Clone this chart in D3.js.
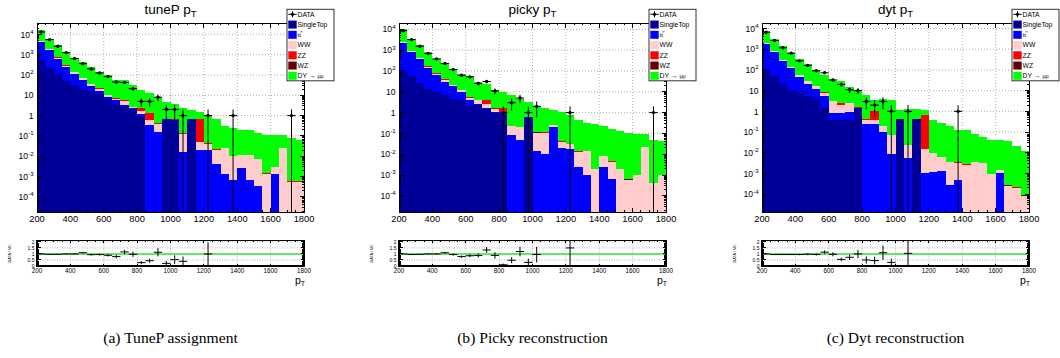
<!DOCTYPE html>
<html><head><meta charset="utf-8">
<script src="https://cdn.jsdelivr.net/npm/d3@7"></script>
<style>
body{margin:0;background:#fff;}
svg{display:block;}
text{font-family:"Liberation Sans",Arial,Helvetica,sans-serif;fill:#000;}
.cap{font-family:"Liberation Serif","Times New Roman",serif;}
</style>
</head><body>
<svg id="c" width="1060" height="358"></svg>
<script>
// ---------------- DATA ----------------
const binLow = [200,250,300,350,400,450,500,550,600,650,700,750,800,850,900,950,1000,1050,1100,1150,1200,1250,1300,1350,1400,1450,1500,1550,1600,1650,1700,1750];
const binWidth = 50;
const xTickValues = [200,400,600,800,1000,1200,1400,1600,1800];
const ratioTickValues = [0,0.5,1,1.5,2];
const ratioTickLabels = ["0","0.5","1","1.5","2"];
const processNames = ["SingleTop","tt","WW","ZZ","WZ","DY \u2192 \u03bc\u03bc"];
const panelTitles = ["tuneP","picky","dyt"];
const captions = ["(a) TuneP assignment","(b) Picky reconstruction","(c) Dyt reconstruction"];

// tuneP
const tuneP_SingleTop = [570,221,116,51,31,21,16,11,5.7,3.9,2.5,2.0,1.0,0,0,0.59,0.53,0,0.64,0,0,0,0,0,0,0,0,0,0,0,0,0];
const tuneP_TTbar = [3630,1539,522,195,85,38,12,5,2.6,1.8,0.7,0.3,0.16,0.33,0.157,0.07,0.07,0.016,0.02,0.02,0.021,0.0041,0.0014,0.00066,0.0025,0.00066,0.00034,0,0.0013,0,0,0];
const tuneP_WW = [300,140,72,31,19,12,7,5,1.7,1.2,1.8,0.2,0.44,0.31,0.243,0.02,0.04,0.114,0.02,0.03,0.021,0.0169,0.024,0.0093,0.0085,0.0103,0.0066,0.0014,0.0017,0.024,0.00056,0.00056];
const tuneP_ZZ = [50,50,20,23,5,3,2,2,0.5,0.3,1.1,0.1,0.8,0.71,0.02,0.01,0.01,0.005,0.01,0.66,0.002,0.001,0.001,0.0003,0.0002,0.0002,0.0001,0.0001,0.0001,0.0005,0.00002,0.00002];
const tuneP_WZ = [10,5,3,2,1,0.6,0.4,0.3,0.1,0.06,0.05,0.03,0.02,0.01,0.005,0.002,0.002,0.001,0.001,0.005,0.0005,0.0002,0.0002,0.00005,0.00004,0.00004,0.00003,0.00002,0.00002,0.0001,0.00001,0.00001];
const tuneP_DY = [11140,4145,2167,1048,569,360,210,118,85,52,48,28,16.6,11.6,7.9,4.0,3.25,2.36,1.3,0.78,1.0,0.62,0.28,0.246,0.189,0.179,0.133,0.1085,0.107,0.085,0.075,0.06];
const tuneP_Data = [13000,5500,2600,1260,640,360,197,125,83,45,43,21,5,5,8,2,2,1,0,0,1,0,0,1,0,0,0,0,0,0,1,0];
const tuneP_Ratio = [1.0,0.97,0.97,1.0,1.0,1.1,0.94,0.95,0.89,0.78,1.17,0.97,0.28,0.44,1.14,0.22,0.53,0.39,null,null,1.0,null,null,null,null,null,null,null,null,null,null,null];
const tuneP_RatioErr = [0.01,0.015,0.02,0.03,0.04,0.05,0.07,0.09,0.11,0.15,0.18,0.22,0.13,0.17,0.34,0.2,0.36,0.4,null,null,0.96,null,null,null,null,null,null,null,null,null,null,null];

// picky
const picky_SingleTop = [115,56,26.6,14,9.8,6.8,4.7,3.9,2.0,2.3,1.56,0.96,0.9,0,0,0.57,0,0,0,0,0,0,0,0,0,0,0,0,0,0,0,0];
const picky_TTbar = [2085,774,328,126,52,23,13.8,5.9,1.9,0.4,0.18,0.12,0.02,0.08,0.05,0.05,0.015,0.01,0.2,0.02,0.017,0.0025,0.001,0,0.0025,0.00063,0,0,0,0,0,0];
const picky_WW = [150,90,55,23,13,8,2.1,2.0,1.4,1.2,0.76,0.48,0.16,0.14,0.15,0.01,0.085,0.1,0.05,0.02,0.014,0.011,0.013,0.0019,0.0058,0.0038,0.0019,0.00058,0.001,0.022,0.0004,0.001];
const picky_ZZ = [50,30,10,7,5,2,0.9,0.7,0.3,0.1,1.4,0.14,0.66,0.01,0.01,0.01,0.01,0.002,0.003,0.001,0.001,0.0005,0.0005,0.0001,0.0002,0.0001,0.00005,0.00003,0.00003,0.0004,0.00001,0.00002];
const picky_WZ = [10,5,2,1,0.5,0.3,0.2,0.1,0.05,0.03,0.03,0.02,0.01,0.002,0.002,0.002,0.002,0.001,0.001,0.0005,0.0003,0.0001,0.0001,0.00002,0.00004,0.00002,0.00001,0.00001,0.00001,0.0001,0.000005,0.00001];
const picky_DY = [7590,2395,1278,599,310,175,98,59.4,52,25,20,10.8,8.05,6.57,4.49,2.6,1.89,1.63,1.15,1.04,0.71,0.44,0.32,0.27,0.21,0.165,0.128,0.099,0.089,0.067,0.0456,0.044];
const picky_Data = [8500,3200,1540,690,380,226,117,62,52,25,31,11,1,3,5,1,2,0,0,0,1,0,0,0,0,0,0,0,0,0,1,0];
const picky_Ratio = [1.0,0.95,0.97,1.0,1.0,1.1,0.95,0.78,0.85,0.87,1.33,0.88,0.1,0.48,1.2,0.3,0.95,null,null,null,1.5,null,null,null,null,null,null,null,null,null,null,null];
const picky_RatioErr = [0.01,0.017,0.025,0.038,0.05,0.07,0.09,0.1,0.12,0.17,0.24,0.27,0.1,0.25,0.4,0.3,0.65,null,null,null,1.5,null,null,null,null,null,null,null,null,null,null,null];

// dyt
const dyt_SingleTop = [102,49,23,10.3,8.5,5.3,4.5,1.5,0.4,0.4,0.4,1.35,0,0,0,0,0.41,0,0.41,0,0,0,0,0,0,0,0,0,0,0,0,0];
const dyt_TTbar = [1718,671,244,111.7,36.5,16.3,7.8,3.8,0.46,0.46,0.5,0.05,0.24,0.24,0.1,0.009,0.005,0.0053,0.005,0.001,0.0012,0.0013,0.00027,0.0005,0,0,0,0,0.001,0,0,0];
const dyt_WW = [80,60,33,13,10,6.4,4.3,2.3,2.14,1.14,1.5,0.1,0.16,0.13,0.09,0.061,0.005,0.0177,0.005,0.014,0.0088,0.0047,0.0033,0.0028,0.0027,0.0036,0.0032,0.0009,0.0004,0.00025,0.0002,0.00008];
const dyt_ZZ = [45,18,9,4.5,4.7,0.8,0.3,0.85,0.18,0.58,0.08,0.04,0.005,0.62,0.005,0.002,0.003,0.001,0.003,0.62,0.0002,0.0001,0.0001,0.0001,0.0001,0.0001,0.0001,0.00003,0.00003,0.00001,0.00001,0.000005];
const dyt_WZ = [5,2,1,0.5,0.3,0.2,0.1,0.05,0.02,0.02,0.02,0.01,0.002,0.005,0.001,0.0005,0.0005,0.0002,0.0005,0.005,0.00005,0.00003,0.00002,0.00002,0.00002,0.00002,0.00002,0.00001,0.00001,0.000005,0.000005,0.000002];
const dyt_DY = [6050,2400,1050,530,285,171,83,49.5,30.8,27.4,12.5,9.45,5.5,2.4,3.9,3.33,0.68,1.32,0.92,0.46,0.36,0.264,0.196,0.127,0.117,0.081,0.052,0.042,0.041,0.035,0.021,0.012];
const dyt_Data = [6600,2650,1170,646,275,165,91,73,33,20,11,10,3,2,3,1,0,1,0,0,0,0,0,1,0,0,0,0,0,0,0,0];
const dyt_Ratio = [1.0,0.95,0.95,0.95,0.95,0.98,0.96,1.15,0.97,0.55,0.72,1.0,0.5,0.45,1.1,0.3,null,1.05,null,null,null,null,null,null,null,null,null,null,null,null,null,null];
const dyt_RatioErr = [0.012,0.02,0.03,0.04,0.06,0.08,0.1,0.14,0.17,0.15,0.22,0.35,0.3,0.32,0.6,0.3,null,1.05,null,null,null,null,null,null,null,null,null,null,null,null,null,null];

// ---------------- STYLE / LAYOUT ----------------
const colors = ["#000099","#0000ff","#ffcccc","#ff0000","#660000","#00ff00"];
const panelLeft = [37,399,762];
const frameW = 267;
const mainTop = 23, mainBot = 212.5;
const ratTop = 240.7, ratBot = 266;

const panels = [
  {stack:[tuneP_SingleTop,tuneP_TTbar,tuneP_WW,tuneP_ZZ,tuneP_WZ,tuneP_DY], data:tuneP_Data, ratio:tuneP_Ratio, err:tuneP_RatioErr, yDomain:[1.7e-5,3.6e4]},
  {stack:[picky_SingleTop,picky_TTbar,picky_WW,picky_ZZ,picky_WZ,picky_DY], data:picky_Data, ratio:picky_Ratio, err:picky_RatioErr, yDomain:[1.6e-5,2.0e4]},
  {stack:[dyt_SingleTop,dyt_TTbar,dyt_WW,dyt_ZZ,dyt_WZ,dyt_DY], data:dyt_Data, ratio:dyt_Ratio, err:dyt_RatioErr, yDomain:[1.3e-5,1.85e4]}
];

const svg = d3.select("#c");
svg.append("rect").attr("width",1060).attr("height",358).attr("fill","#fff");

panels.forEach((p, pi) => {
  const x0 = panelLeft[pi], x1 = x0 + frameW;
  const x = d3.scaleLinear().domain([200,1800]).range([x0,x1]);
  const y = d3.scaleLog().domain(p.yDomain).range([mainBot,mainTop]).clamp(true);
  const g = svg.append("g");

  const clipId = "clip"+pi;
  svg.append("clipPath").attr("id",clipId).append("rect")
    .attr("x",x0).attr("y",mainTop).attr("width",frameW).attr("height",mainBot-mainTop);

  // grid
  const decades = d3.range(-6,7).filter(e => Math.pow(10,e) >= p.yDomain[0] && Math.pow(10,e) <= p.yDomain[1]);
  const grid = g.append("g").attr("stroke","#999").attr("stroke-width",0.8).attr("stroke-dasharray","1,2");
  xTickValues.slice(1,-1).forEach(v => grid.append("line").attr("x1",x(v)).attr("x2",x(v)).attr("y1",mainTop).attr("y2",mainBot));
  decades.forEach(e => grid.append("line").attr("x1",x0).attr("x2",x1).attr("y1",y(Math.pow(10,e))).attr("y2",y(Math.pow(10,e))));

  // stacked histogram
  const hg = g.append("g").attr("clip-path",`url(#${clipId})`).attr("shape-rendering","crispEdges");
  binLow.forEach((lo, i) => {
    let cum = 0;
    p.stack.forEach((series, k) => {
      const v = series[i];
      if (!(v > 0)) return;
      const below = cum; cum += v;
      const yt = y(cum), yb = below > 0 ? y(below) : mainBot;
      if (yb - yt <= 0) return;
      hg.append("rect").attr("x",x(lo)).attr("width",x(lo+binWidth)-x(lo))
        .attr("y",yt).attr("height",yb-yt).attr("fill",colors[k]);
    });
  });

  // data points
  const dg = g.append("g").attr("clip-path",`url(#${clipId})`).attr("stroke","#000").attr("stroke-width",1);
  p.data.forEach((n, i) => {
    if (!(n > 0)) return;
    const cx = x(binLow[i] + binWidth/2);
    const e = Math.sqrt(n);
    const yHi = y(n + e);
    const yLo = (n - e) > 0 ? y(n - e) : mainBot;
    dg.append("line").attr("x1",cx).attr("x2",cx).attr("y1",yHi).attr("y2",yLo);
    dg.append("line").attr("x1",x(binLow[i])).attr("x2",x(binLow[i]+binWidth)).attr("y1",y(n)).attr("y2",y(n));
    dg.append("circle").attr("cx",cx).attr("cy",y(n)).attr("r",1.7).attr("fill","#000").attr("stroke","none");
  });

  // frame and ticks
  const ax = g.append("g").attr("stroke","#000").attr("stroke-width",1).attr("shape-rendering","crispEdges");
  ax.append("rect").attr("x",x0).attr("y",mainTop).attr("width",frameW).attr("height",mainBot-mainTop).attr("fill","none");
  for (let v = 200; v <= 1800; v += 50) {
    const len = (v % 200 === 0) ? 4.5 : 2.3;
    ax.append("line").attr("x1",x(v)).attr("x2",x(v)).attr("y1",mainBot).attr("y2",mainBot-len);
    ax.append("line").attr("x1",x(v)).attr("x2",x(v)).attr("y1",mainTop).attr("y2",mainTop+len);
  }
  d3.range(-6,6).forEach(e => {
    for (let m = 1; m <= 9; m++) {
      const v = m*Math.pow(10,e);
      if (v < p.yDomain[0] || v > p.yDomain[1]) continue;
      const len = m === 1 ? 4.5 : 2.2;
      ax.append("line").attr("x1",x0).attr("x2",x0+len).attr("y1",y(v)).attr("y2",y(v));
      ax.append("line").attr("x1",x1).attr("x2",x1-len).attr("y1",y(v)).attr("y2",y(v));
    }
  });

  // tick labels
  xTickValues.forEach(v => {
    g.append("text").attr("x",x(v)).attr("y",mainBot+9.5).attr("text-anchor","middle")
      .attr("font-size",9.3).text(v);
  });
  decades.forEach(e => {
    const t = g.append("text").attr("x",x0-3.5).attr("y",y(Math.pow(10,e))+3.2)
      .attr("text-anchor","end").attr("font-size",8.6);
    if (e === 0) t.text("1");
    else if (e === 1) t.text("10");
    else {
      t.append("tspan").text("10");
      t.append("tspan").attr("dy",-3.8).attr("font-size",6).text(String(e));
    }
  });

  // title
  const cxm = (x0+x1)/2;
  const title = g.append("text").attr("x",cxm).attr("y",13.5).attr("text-anchor","middle").attr("font-size",13.5);
  title.append("tspan").text(panelTitles[pi] + " p");
  title.append("tspan").attr("dy",3.5).attr("font-size",9.5).text("T");

  // legend
  const lx = x1 - 17, ly = 9.3, lw = 47, lh = 71.5;
  const lg = g.append("g");
  lg.append("rect").attr("x",lx).attr("y",ly).attr("width",lw).attr("height",lh)
    .attr("fill","#fff").attr("stroke","#333").attr("stroke-width",1);
  const rowY = i => ly + 5 + i*10.25;
  // DATA row
  lg.append("line").attr("x1",lx+1.3).attr("x2",lx+9.7).attr("y1",rowY(0)).attr("y2",rowY(0)).attr("stroke","#000");
  lg.append("line").attr("x1",lx+5.5).attr("x2",lx+5.5).attr("y1",rowY(0)-3).attr("y2",rowY(0)+3).attr("stroke","#000");
  lg.append("circle").attr("cx",lx+5.5).attr("cy",rowY(0)).attr("r",1.6).attr("fill","#000");
  lg.append("text").attr("x",lx+10.5).attr("y",rowY(0)+2.4).attr("font-size",6.8).text("DATA");
  processNames.forEach((name, k) => {
    const ry = rowY(k+1);
    lg.append("rect").attr("x",lx+1.3).attr("y",ry-4).attr("width",8.4).attr("height",8).attr("fill",colors[k]);
    const t = lg.append("text").attr("x",lx+10.5).attr("y",ry+2.4).attr("font-size",6.8);
    if (k === 5) {
      t.append("tspan").text("DY \u2192 ");
      t.append("tspan").attr("font-size",5.5).text("\u03bc\u03bc");
    } else if (k === 1) {
      t.attr("font-size",6).text(name);
      lg.append("line").attr("x1",lx+13.4).attr("x2",lx+15.6).attr("y1",ry-3).attr("y2",ry-3)
        .attr("stroke","#000").attr("stroke-width",0.6);
    } else t.text(name);
  });

  // ---------------- ratio panel ----------------
  const yr = d3.scaleLinear().domain([0,2.1]).range([ratBot,ratTop]);
  const rclip = "rclip"+pi;
  svg.append("clipPath").attr("id",rclip).append("rect")
    .attr("x",x0).attr("y",ratTop).attr("width",frameW).attr("height",ratBot-ratTop);
  const rg = svg.append("g");
  const rgrid = rg.append("g").attr("stroke","#999").attr("stroke-width",0.7).attr("stroke-dasharray","1,1.5");
  xTickValues.slice(1,-1).forEach(v => rgrid.append("line").attr("x1",x(v)).attr("x2",x(v)).attr("y1",ratTop).attr("y2",ratBot));
  [0.5,1.5,2].forEach(v => rgrid.append("line").attr("x1",x0).attr("x2",x1).attr("y1",yr(v)).attr("y2",yr(v)));
  rg.append("line").attr("x1",x0).attr("x2",x1).attr("y1",yr(1)).attr("y2",yr(1))
    .attr("stroke","#33dd33").attr("stroke-width",1.6);
  const rp = rg.append("g").attr("clip-path",`url(#${rclip})`).attr("stroke","#000").attr("stroke-width",1);
  p.ratio.forEach((r, i) => {
    if (r === null) return;
    const cx = x(binLow[i] + binWidth/2);
    const e = p.err[i] || 0;
    rp.append("line").attr("x1",x(binLow[i])).attr("x2",x(binLow[i]+binWidth)).attr("y1",yr(r)).attr("y2",yr(r));
    rp.append("line").attr("x1",cx).attr("x2",cx).attr("y1",yr(r+e)).attr("y2",yr(Math.max(r-e,-0.2)));
  });
  const rax = rg.append("g").attr("stroke","#000").attr("stroke-width",1).attr("shape-rendering","crispEdges");
  rax.append("rect").attr("x",x0).attr("y",ratTop).attr("width",frameW).attr("height",ratBot-ratTop)
    .attr("fill","none").attr("stroke-width",1.3);
  for (let v = 200; v <= 1800; v += 50) {
    const len = (v % 200 === 0) ? 2.5 : 1.3;
    rax.append("line").attr("x1",x(v)).attr("x2",x(v)).attr("y1",ratBot).attr("y2",ratBot-len);
    rax.append("line").attr("x1",x(v)).attr("x2",x(v)).attr("y1",ratTop).attr("y2",ratTop+len);
  }
  for (let k = 0; k <= 20; k++) {
    const v = k*0.1;
    const len = (k % 5 === 0) ? 3.5 : 1.6;
    rax.append("line").attr("x1",x0).attr("x2",x0+len).attr("y1",yr(v)).attr("y2",yr(v));
    rax.append("line").attr("x1",x1).attr("x2",x1-len).attr("y1",yr(v)).attr("y2",yr(v));
  }
  ratioTickValues.forEach((v, k) => {
    rg.append("text").attr("x",x0-2.5).attr("y",yr(v)+1.8).attr("text-anchor","end")
      .attr("font-size",5).text(ratioTickLabels[k]);
  });
  xTickValues.forEach(v => {
    rg.append("text").attr("x",x(v)).attr("y",ratBot+7.2).attr("text-anchor","middle")
      .attr("font-size",6.3).text(v);
  });
  const pt = rg.append("text").attr("x",x1-9).attr("y",283.5).attr("font-size",10.5);
  pt.append("tspan").text("p");
  pt.append("tspan").attr("dy",2.8).attr("font-size",7).text("T");
  rg.append("text").attr("transform",`translate(${x0-26},${(ratTop+ratBot)/2}) rotate(-90)`)
    .attr("text-anchor","middle").attr("font-size",3.8).text("DATA / MC");

  // caption
  svg.append("text").attr("class","cap").attr("x",cxm).attr("y",343).attr("text-anchor","middle")
    .attr("font-size",15.6).text(captions[pi]);
});
</script>
</body></html>
